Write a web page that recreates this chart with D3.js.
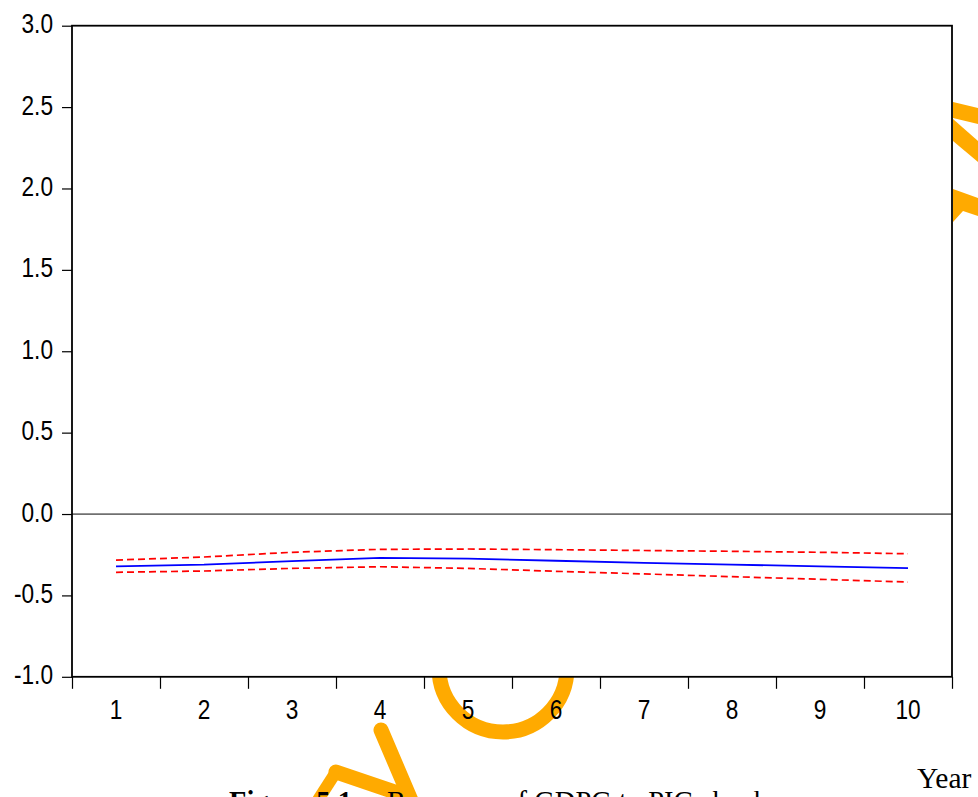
<!DOCTYPE html>
<html>
<head>
<meta charset="utf-8">
<script src="https://cdn.jsdelivr.net/npm/d3@7"></script>
<style>
  html, body { margin: 0; padding: 0; background: #fff; }
  svg { display: block; }
</style>
</head>
<body>
<svg id="chart" width="978" height="797"></svg>
<script>
// ---- data ----
const periods = [1, 2, 3, 4, 5, 6, 7, 8, 9, 10];
const response = [-0.321, -0.311, -0.289, -0.270, -0.274, -0.287, -0.300, -0.311, -0.321, -0.332];
const upperBand = [-0.283, -0.264, -0.235, -0.217, -0.215, -0.219, -0.224, -0.229, -0.235, -0.244];
const lowerBand = [-0.358, -0.350, -0.334, -0.324, -0.334, -0.352, -0.368, -0.385, -0.401, -0.418];
const yTicks = [-1.0, -0.5, 0.0, 0.5, 1.0, 1.5, 2.0, 2.5, 3.0];
const yTickLabels = ["-1.0", "-0.5", "0.0", "0.5", "1.0", "1.5", "2.0", "2.5", "3.0"];
const captionBold = "Figure 5.1:";
const captionText = "Response of GDPG to PIG shock";
const xAxisTitle = "Year";

// ---- layout ----
const svg = d3.select("#chart");
const L = 72, R = 952, T = 25.7, B = 676.8;

const x = d3.scaleBand().domain(periods).range([L, R]).padding(0);
const xEdge = d3.scaleLinear().domain([0, periods.length]).range([L, R]);
const y = d3.scaleLinear().domain([-1, 3]).range([B, T]);

// ---- watermark (behind the plot area) ----
const orange = "#FFAA00";
const wm = svg.append("g");
wm.append("circle").attr("cx", 503).attr("cy", 668).attr("r", 64)
  .attr("fill", "none").attr("stroke", orange).attr("stroke-width", 15);
wm.append("line").attr("x1", 381).attr("y1", 730).attr("x2", 413).attr("y2", 805)
  .attr("stroke", orange).attr("stroke-width", 15).attr("stroke-linecap", "round");
wm.append("line").attr("x1", 336).attr("y1", 772).attr("x2", 398).attr("y2", 793)
  .attr("stroke", orange).attr("stroke-width", 15).attr("stroke-linecap", "round");
wm.append("line").attr("x1", 336).attr("y1", 772).attr("x2", 318).attr("y2", 800)
  .attr("stroke", orange).attr("stroke-width", 12);
wm.append("polygon").attr("points", "953,102 978,108 978,124 953,118").attr("fill", orange);
wm.append("polygon").attr("points", "953,119 978,141 978,162 953,141").attr("fill", orange);
wm.append("polygon").attr("points", "953,189 978,198 978,216 963,211 953,222").attr("fill", orange);

// ---- plot background ----
svg.append("rect").attr("x", L).attr("y", T).attr("width", R - L).attr("height", B - T)
  .attr("fill", "#fff");

// zero line
svg.append("line").attr("x1", L).attr("x2", R).attr("y1", y(0)).attr("y2", y(0))
  .attr("stroke", "#707070").attr("stroke-width", 1.7);

// ---- series ----
const line = d3.line().x((d, i) => x(periods[i]) + x.bandwidth() / 2).y(d => y(d));
svg.append("path").datum(upperBand).attr("d", line).attr("fill", "none")
  .attr("stroke", "#FF0000").attr("stroke-width", 1.7).attr("stroke-dasharray", "7,4");
svg.append("path").datum(lowerBand).attr("d", line).attr("fill", "none")
  .attr("stroke", "#FF0000").attr("stroke-width", 1.7).attr("stroke-dasharray", "7,4");
svg.append("path").datum(response).attr("d", line).attr("fill", "none")
  .attr("stroke", "#0000FF").attr("stroke-width", 1.8);

// ---- frame ----
svg.append("rect").attr("x", L).attr("y", T).attr("width", R - L).attr("height", B - T)
  .attr("fill", "none").attr("stroke", "#000").attr("stroke-width", 1.8);

const fontSans = "Arial, 'Liberation Sans', sans-serif";
const sx = 0.84;

// ---- y axis ----
const yAxis = svg.append("g").attr("transform", `translate(${L},0)`)
  .call(d3.axisLeft(y).tickValues(yTicks).tickSize(10).tickPadding(0)
    .tickFormat((d, i) => yTickLabels[i]));
yAxis.select(".domain").remove();
yAxis.selectAll(".tick line").attr("stroke", "#000").attr("stroke-width", 1.2);
yAxis.selectAll(".tick text")
  .attr("font-family", fontSans).attr("font-size", 27).attr("fill", "#000")
  .attr("x", -19 / sx).attr("dy", "0.26em")
  .attr("transform", `scale(${sx},1)`);

// ---- x axis: boundary ticks ----
const xTicksG = svg.append("g").attr("transform", `translate(0,${B})`)
  .call(d3.axisBottom(xEdge).tickValues(d3.range(0, periods.length + 1)).tickSize(12).tickFormat(""));
xTicksG.select(".domain").remove();
xTicksG.selectAll(".tick line").attr("stroke", "#000").attr("stroke-width", 1.2);

// ---- x axis: labels at band centres ----
const xLab = svg.append("g").attr("transform", `translate(0,${B})`)
  .call(d3.axisBottom(x).tickSize(0).tickPadding(0));
xLab.select(".domain").remove();
xLab.selectAll(".tick text")
  .attr("font-family", fontSans).attr("font-size", 27).attr("fill", "#000")
  .attr("y", 42).attr("dy", 0)
  .attr("transform", `scale(${sx},1)`)
  .attr("x", 0);

// ---- titles ----
const fontSerif = "'Times New Roman', 'Liberation Serif', serif";
svg.append("text").attr("x", 917).attr("y", 788)
  .attr("font-family", fontSerif).attr("font-size", 29.5).attr("fill", "#000")
  .text(xAxisTitle);

const cap = svg.append("text").attr("y", 810.5)
  .attr("font-family", fontSerif).attr("font-size", 28.5).attr("fill", "#000");
cap.append("tspan").attr("x", 229).attr("font-weight", "bold").text(captionBold);
cap.append("tspan").attr("x", 387).text(captionText);
</script>
</body>
</html>
